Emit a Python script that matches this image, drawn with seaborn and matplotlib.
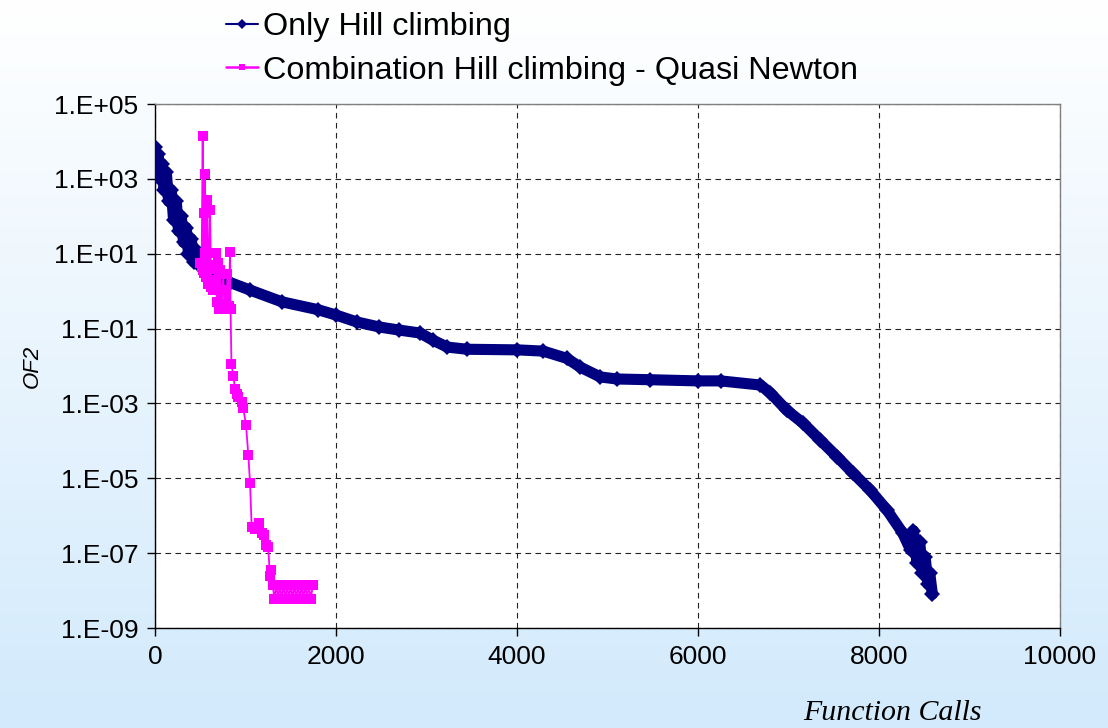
import numpy as np
import pandas as pd
import matplotlib
matplotlib.use("Agg")
import matplotlib.pyplot as plt
from matplotlib.lines import Line2D
from matplotlib.ticker import FixedLocator, FuncFormatter, NullLocator
import seaborn as sns

# ---------------- data ----------------
hill_x = [0, 15, 35, 55, 80, 100, 125, 150, 180, 205, 235, 260, 290, 315, 345, 370,
          400, 430, 460, 490, 520, 560, 600, 660, 720, 830, 1050, 1400, 1800, 2000,
          2230, 2480, 2700, 2930, 3070, 3230, 3450, 4000, 4290, 4550, 4700, 4920,
          5100, 5470, 6000, 6250, 6690, 6800, 6980, 7160, 7350, 7540, 7710, 7900,
          8090, 8260, 8350, 8380, 8420, 8450, 8480, 8510, 8540, 8560, 8590]
hill_y = [7000, 1300, 4500, 1000, 2500, 500, 1500, 250, 500, 80, 250, 40, 100, 20,
          50, 10, 25, 6, 12, 5, 7, 4, 3.5, 2.5, 2.0, 1.7, 1.07, 0.52, 0.32, 0.23,
          0.15, 0.11, 0.091, 0.076, 0.049, 0.032, 0.028, 0.027, 0.025, 0.016,
          0.0093, 0.0051, 0.0045, 0.0043, 0.0040, 0.0040, 0.0031, 0.0019, 6.6e-4,
          3.0e-4, 1.05e-4, 3.7e-5, 1.4e-5, 4.9e-6, 1.4e-6, 3.5e-7, 1.2e-7, 4e-7,
          5.5e-8, 2e-7, 3e-8, 8e-8, 1.5e-8, 3e-8, 8e-9]

combo_x = [497, 515, 527, 534, 540, 546, 552, 558, 565, 578, 590, 600, 608, 620,
           633, 644, 660, 674, 682, 700, 710, 718, 735, 755, 765, 780, 792, 799,
           815, 829, 835, 845, 866, 884, 905, 921, 958, 976, 1006, 1031, 1050,
           1068, 1100, 1130, 1153, 1179, 1200, 1227, 1250, 1271, 1282,
           1300, 1320, 1340, 1360, 1380, 1400, 1420, 1440, 1460, 1480, 1500,
           1520, 1540, 1560, 1580, 1600, 1620, 1640, 1660, 1680, 1700, 1720, 1745]
combo_y = [5.6, 4.5, 14000, 3.6, 125, 3.0, 1350, 10.7, 2.4, 270, 1.6, 5, 150, 1.3,
           2.0, 1.07, 4, 10.7, 0.50, 5.6, 0.33, 3.7, 0.40, 2.9, 0.45, 1.07, 0.33,
           2.9, 0.40, 11, 0.33, 0.011, 0.0054, 0.0025, 0.0018, 0.0015, 0.0011,
           7.4e-4, 2.6e-4, 4.2e-5, 7.6e-6, 5.1e-7, 4.5e-7, 5e-7, 6.3e-7, 3.4e-7,
           3e-7, 1.7e-7, 1.5e-7, 2.4e-8, 3.5e-8,
           1.4e-8, 6e-9, 1.4e-8, 6e-9, 1.4e-8, 6e-9, 1.4e-8, 6e-9, 1.4e-8, 6e-9,
           1.4e-8, 6e-9, 1.4e-8, 6e-9, 1.4e-8, 6e-9, 1.4e-8, 6e-9, 1.4e-8, 6e-9,
           1.4e-8, 6e-9, 1.4e-8]

series_names = ["Only Hill climbing", "Combination Hill climbing - Quasi Newton"]
y_tick_exps = [5, 3, 1, -1, -3, -5, -7, -9]
x_ticks = [0, 2000, 4000, 6000, 8000, 10000]

NAVY = "#000080"
MAGENTA = "#FF00FF"

# ---------------- style ----------------
sns.set_theme(style="white")
plt.rcParams["font.family"] = ["Liberation Sans", "DejaVu Sans"]
plt.rcParams["text.color"] = "black"
plt.rcParams["axes.labelcolor"] = "black"
plt.rcParams["xtick.color"] = "black"
plt.rcParams["ytick.color"] = "black"

fig = plt.figure(figsize=(11.08, 7.28), dpi=100)

# gradient background
bg = fig.add_axes([0, 0, 1, 1], zorder=-10)
h = 256
t = np.linspace(0, 1, h)[:, None]
top = np.array([1.0, 1.0, 1.0])
bot = np.array([210, 234, 252]) / 255.0
grad = (top[None, None, :] * (1 - t[..., None]) + bot[None, None, :] * t[..., None])
grad = np.repeat(grad, 2, axis=1)
bg.imshow(grad, aspect="auto", extent=[0, 1, 0, 1], origin="upper")
bg.set_axis_off()

ax = fig.add_axes([155 / 1108, 1 - 628 / 728, (1060 - 155) / 1108, (628 - 104) / 728])
ax.set_facecolor("white")

df_h = pd.DataFrame({"x": hill_x, "y": hill_y})
df_c = pd.DataFrame({"x": combo_x, "y": combo_y})

sns.lineplot(data=df_h, x="x", y="y", ax=ax, color=NAVY, linewidth=8,
             marker="D", markersize=8.5, markeredgewidth=0, sort=False,
             estimator=None, zorder=3)
sns.lineplot(data=df_c, x="x", y="y", ax=ax, color=MAGENTA, linewidth=1.3,
             marker="s", markersize=7, markeredgewidth=0, sort=False,
             estimator=None, zorder=4)

ax.set_yscale("log")
ax.set_ylim(1e-9, 1e5)
ax.set_xlim(0, 10000)

ax.yaxis.set_major_locator(FixedLocator([10.0 ** e for e in y_tick_exps]))
ax.yaxis.set_minor_locator(NullLocator())
ax.yaxis.set_major_formatter(FuncFormatter(lambda v, p: "1.E%+03d" % int(round(np.log10(v)))))
ax.xaxis.set_major_locator(FixedLocator(x_ticks))
ax.xaxis.set_major_formatter(FuncFormatter(lambda v, p: "%d" % v))

ax.grid(True, which="major", color="#222222", linestyle=(0, (5, 4)), linewidth=0.8)
ax.set_axisbelow(True)

for s in ["left", "bottom"]:
    ax.spines[s].set_color("black")
    ax.spines[s].set_linewidth(1.0)
for s in ["top", "right"]:
    ax.spines[s].set_color("#808080")
    ax.spines[s].set_linewidth(1.0)

ax.tick_params(axis="both", which="major", direction="out", length=6, width=1,
               color="black", labelcolor="black", labelsize=19, pad=6,
               left=True, bottom=True)

ax.set_xlabel("")
ax.set_ylabel("OF2", fontsize=16, style="italic", labelpad=8, color="black")

fig.text(892 / 1108, 1 - 713 / 728, "Function Calls", fontsize=21.5,
         family=["Liberation Serif", "DejaVu Serif"], style="italic",
         ha="center", va="center", color="black")

handles = [
    Line2D([], [], color=NAVY, marker="D", markersize=5, linewidth=1.5, markeredgewidth=0),
    Line2D([], [], color=MAGENTA, marker="s", markersize=5, linewidth=1.8, markeredgewidth=0),
]
leg = fig.legend(handles, series_names, loc="upper left",
                 bbox_to_anchor=(226 / 1108, 1 - 12 / 728), frameon=False, fontsize=23.3,
                 handlelength=1.0, handletextpad=0.15, labelspacing=0.42,
                 borderpad=0, borderaxespad=0)
for txt in leg.get_texts():
    txt.set_color("black")

fig.savefig("out.png", dpi=100)
